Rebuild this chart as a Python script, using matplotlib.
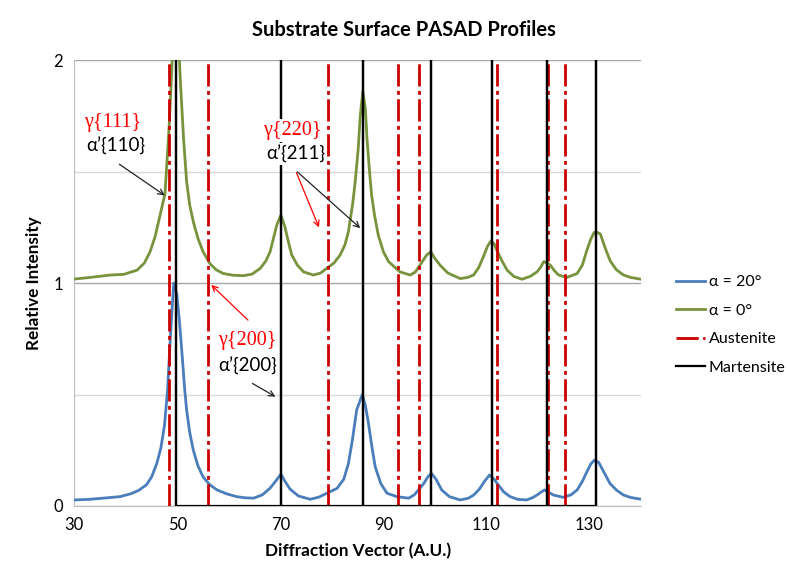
import matplotlib
matplotlib.use("Agg")
import matplotlib.pyplot as plt
from matplotlib.ticker import MultipleLocator

plt.rcParams['font.family'] = ['Lato', 'DejaVu Sans']

# alpha = 20 deg profile
x20 = [30, 33, 35.6, 38.9, 41, 42.5, 44.0, 45.0, 46.0, 46.8, 47.5, 48.1, 48.7, 49.3,
       49.9, 50.4, 50.9, 51.4, 51.8, 52.4, 53.1, 54.0, 55.0, 56.3, 57.7, 59.5, 61.5,
       63.0, 64.8, 66.5, 68.0, 69.2, 70.1, 70.9, 71.9, 73.5, 75.8, 77.5, 79.0, 81.0,
       82.3, 83.2, 84.0, 84.8, 85.9, 86.5, 87.1, 87.8, 88.4, 89.5, 90.7, 92.6, 94.9,
       96.0, 96.8, 97.8, 98.6, 99.3, 100.2, 101.3, 102.8, 104.9, 106.5, 107.5, 108.6,
       109.6, 110.6, 111.5, 112.3, 113.4, 114.6, 116.0, 117.8, 119.0, 119.8, 120.6,
       121.3, 122.0, 123.0, 124.9, 126.4, 127.6, 128.6, 129.5, 130.3, 131.0, 131.8,
       132.6, 134.0, 135.3, 136.6, 138.0, 139.8]
y20 = [0.027, 0.03, 0.035, 0.042, 0.055, 0.07, 0.095, 0.13, 0.19, 0.26, 0.36, 0.52, 0.78, 1.0,
       0.95, 0.83, 0.685, 0.53, 0.43, 0.33, 0.25, 0.18, 0.13, 0.095, 0.072, 0.055, 0.042,
       0.037, 0.035, 0.05, 0.08, 0.115, 0.143, 0.11, 0.075, 0.045, 0.03, 0.04, 0.057, 0.079,
       0.12, 0.19, 0.3, 0.43, 0.50, 0.45, 0.37, 0.26, 0.176, 0.1, 0.057, 0.042, 0.035,
       0.05, 0.072, 0.1, 0.13, 0.147, 0.12, 0.072, 0.042, 0.027, 0.035, 0.049, 0.075,
       0.11, 0.139, 0.12, 0.094, 0.062, 0.042, 0.03, 0.027, 0.038, 0.049, 0.062,
       0.072, 0.062, 0.049, 0.039, 0.05, 0.072, 0.11, 0.154, 0.19, 0.206, 0.195,
       0.16, 0.10, 0.07, 0.049, 0.038, 0.031]

# alpha = 0 deg profile
x0 = [30, 33, 37, 39.6, 42.2, 43.6, 44.7, 45.7, 46.6, 47.6, 48.4, 49.0, 49.5, 50.0,
      50.6, 51.2, 51.8, 52.4, 53.1, 54.0, 55.0, 56.3, 57.5, 58.9, 60.8, 62.8, 64.5,
      66.1, 67.2, 68.0, 69.3, 70.1, 70.9, 71.6, 72.2, 73.3, 74.5, 76.4, 77.8, 79.0,
      80.4, 81.6, 82.5, 83.2, 84.0, 84.5, 85.1, 85.5, 86.0, 86.5, 86.8, 87.3, 87.7,
      88.3, 89.0, 90.0, 91.0, 93.2, 95.2, 96.2, 97.1, 98.4, 99.2, 100.0, 101.0,
      102.5, 104.9, 106.3, 107.5, 108.5, 109.4, 110.2, 110.9, 111.5, 112.0, 113.0,
      114.0, 115.3, 116.9, 118.5, 119.8, 120.5, 121.1, 121.8, 122.4, 123.2, 124.0,
      125.6, 127.6, 128.6, 129.5, 130.3, 130.9, 131.5, 132.1, 133.0, 134.0, 135.2,
      136.6, 138.0, 139.8]
y0 = [1.018, 1.025, 1.036, 1.039, 1.058, 1.09, 1.14, 1.21, 1.30, 1.40, 1.70, 2.0, 2.2, 2.2,
      1.9, 1.65, 1.455, 1.35, 1.275, 1.2, 1.14, 1.088, 1.06, 1.043, 1.035, 1.033, 1.04,
      1.066, 1.1, 1.14, 1.26, 1.305, 1.25, 1.18, 1.126, 1.08, 1.05, 1.036, 1.045, 1.066,
      1.09, 1.126, 1.17, 1.23, 1.35, 1.45, 1.6, 1.75, 1.86, 1.78, 1.65, 1.5, 1.395,
      1.3, 1.215, 1.14, 1.096, 1.05, 1.036, 1.05, 1.081, 1.126, 1.14, 1.11, 1.08,
      1.045, 1.02, 1.025, 1.036, 1.07, 1.118, 1.165, 1.19, 1.175, 1.148, 1.1,
      1.058, 1.03, 1.017, 1.03, 1.05, 1.07, 1.096, 1.09, 1.08, 1.055, 1.036,
      1.025, 1.043, 1.08, 1.148, 1.2, 1.227, 1.227, 1.22, 1.16, 1.10, 1.06,
      1.036, 1.025, 1.018]

austenite = [48.4, 56.0, 79.3, 92.9, 97.0, 112.0, 122.0, 125.2]
martensite = [49.8, 70.2, 86.0, 99.3, 111.1, 121.8, 131.3]
xticks = [30, 50, 70, 90, 110, 130]
line_top = 2.0

fig = plt.figure(figsize=(7.88, 5.78), dpi=100)
ax = fig.add_axes([0.0943, 0.1246, 0.7192, 0.7714])

ax.plot(x20, y20, color='#4a7ebb', lw=2.0, label='α = 20°', zorder=3)
ax.plot(x0, y0, color='#77933c', lw=2.0, label='α = 0°', zorder=3)

# austenite: separate dashed sticks
ax_x, ax_y = [], []
for x in austenite:
    ax_x += [x, x, float('nan')]
    ax_y += [0, line_top, float('nan')]
ax.plot(ax_x, ax_y, color='#cc0000', lw=2.0, dashes=(8, 1.6, 1.4, 1.6),
        label='Austenite', zorder=4)

# martensite: sticks joined along the baseline
mx, my = [], []
for x in martensite:
    mx += [x, x, x]
    my += [0, line_top, 0]
ax.plot(mx, my, color='black', lw=1.6, label='Martensite', zorder=5)

ax.set_xlim(30, 140)
ax.set_ylim(0, 2)
ax.set_xticks(xticks)
ax.yaxis.set_major_locator(MultipleLocator(1))
ax.yaxis.set_minor_locator(MultipleLocator(0.5))
ax.grid(which='major', axis='y', color='#a6a6a6', lw=1.0)
ax.grid(which='minor', axis='y', color='#d9d9d9', lw=1.0)
ax.grid(False, axis='x')
ax.tick_params(length=0, labelsize=12, pad=8, which='both')
for s in ax.spines.values():
    s.set_color('#bfbfbf')
ax.spines['right'].set_visible(False)
ax.spines['top'].set_visible(False)

ax.set_xlabel('Diffraction Vector (A.U.)', fontsize=12.3, fontweight='bold', labelpad=7)
ax.set_ylabel('Relative Intensity', fontsize=12.3, fontweight='bold', labelpad=8)
fig.text(0.512, 0.948, 'Substrate Surface PASAD Profiles', ha='center', va='center',
         fontsize=14.5, fontweight='bold')

box = dict(facecolor='white', edgecolor='none', pad=1.5)
gam = dict(color='red', fontsize=14.5, family='Liberation Serif', ha='center', va='center', zorder=6)
alp = dict(color='black', fontsize=13.5, ha='center', va='center', zorder=6)

ax.text(37.5, 1.72, 'γ{111}', bbox=box, **gam)
ax.text(38.1, 1.615, 'α’{110}', bbox=box, **alp)
ax.annotate('', xy=(48.0, 1.386), xytext=(38.3, 1.54),
            arrowprops=dict(arrowstyle='->', color='#222222', lw=0.9), zorder=6)

ax.text(72.4, 1.686, 'γ{220}', bbox=box, **gam)
ax.text(72.9, 1.578, 'α’{211}', bbox=box, **alp)
ax.annotate('', xy=(77.7, 1.238), xytext=(72.9, 1.507),
            arrowprops=dict(arrowstyle='->', color='red', lw=0.9), zorder=6)
ax.annotate('', xy=(85.9, 1.238), xytext=(72.9, 1.507),
            arrowprops=dict(arrowstyle='->', color='#222222', lw=0.9), zorder=6)

ax.text(63.5, 0.744, 'γ{200}', bbox=box, **gam)
ax.text(63.7, 0.628, 'α’{200}', bbox=box, **alp)
ax.annotate('', xy=(56.2, 1.0), xytext=(64.1, 0.825),
            arrowprops=dict(arrowstyle='->', color='red', lw=0.9), zorder=6)
ax.annotate('', xy=(69.5, 0.484), xytext=(64.1, 0.556),
            arrowprops=dict(arrowstyle='->', color='#222222', lw=0.9), zorder=6)

fig.legend(loc='center left', bbox_to_anchor=(0.848, 0.438), frameon=False,
           fontsize=11.5, handlelength=1.8, handletextpad=0.25, labelspacing=0.9,
           borderpad=0)

fig.savefig('out.png', dpi=100)
